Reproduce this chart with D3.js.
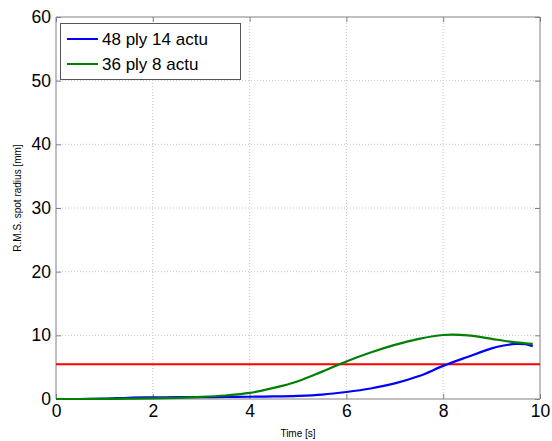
<!DOCTYPE html>
<html><head><meta charset="utf-8">
<script src="https://cdn.jsdelivr.net/npm/d3@7"></script>
<style>body{margin:0;background:#fff}svg{display:block;font-family:"Liberation Sans",Arial,sans-serif}</style>
</head><body><svg id="c" width="552" height="441"></svg>
<script>
const time = [0,0.5,1,1.5,2,2.5,3,3.5,4,4.5,5,5.5,6,6.5,7,7.5,8,8.5,9,9.25,9.5,9.7,9.85];
const green36 = [0,0,0.02,0.05,0.1,0.18,0.32,0.55,0.95,1.75,2.8,4.3,5.9,7.3,8.5,9.45,10.05,10.0,9.45,9.15,8.9,8.75,8.65];
const blue48 = [0,0,0.05,0.2,0.25,0.28,0.3,0.32,0.35,0.4,0.5,0.7,1.1,1.65,2.45,3.6,5.2,6.6,7.95,8.4,8.65,8.6,8.3];
const threshold = 5.45;
const xTicks = [0,2,4,6,8,10];
const yTicks = [0,10,20,30,40,50,60];
const legendLabels = ["48 ply 14 actu","36 ply 8 actu"];
const colors = ["#0000ff","#008000"];

const svg = d3.select("#c");
const m = {l:56,t:17,r:12,b:42};
const W = 552, H = 441;
const x = d3.scaleLinear().domain([0,10]).range([m.l, W-m.r]);
const y = d3.scaleLinear().domain([0,60]).range([H-m.b, m.t]);
const frame = "#808080";

// grid
const g = svg.append("g");
g.selectAll(".gx").data(xTicks.slice(1,-1)).enter().append("line")
 .attr("x1",d=>x(d)).attr("x2",d=>x(d)).attr("y1",y(0)).attr("y2",y(60))
 .attr("stroke","#c8c8c8").attr("stroke-dasharray","1,2");
g.selectAll(".gy").data(yTicks.slice(1,-1)).enter().append("line")
 .attr("y1",d=>y(d)).attr("y2",d=>y(d)).attr("x1",x(0)).attr("x2",x(10))
 .attr("stroke","#c8c8c8").attr("stroke-dasharray","1,2");

// axes
const xb = d3.axisBottom(x).tickValues(xTicks).tickSize(-5).tickPadding(6);
const xt = d3.axisTop(x).tickValues(xTicks).tickSize(-5).tickFormat("");
const yl = d3.axisLeft(y).tickValues(yTicks).tickSize(-5).tickPadding(5);
const yr = d3.axisRight(y).tickValues(yTicks).tickSize(-5).tickFormat("");
function style(sel){sel.select(".domain").attr("stroke",frame);sel.selectAll(".tick line").attr("stroke",frame);
 sel.selectAll("text").attr("fill","#000").attr("font-size",17.5).attr("font-family","Liberation Sans, Arial, sans-serif");}
svg.append("g").attr("transform",`translate(0,${y(0)})`).call(xb).call(style).call(s=>s.select(".domain").attr("d",`M${x(0)},0H${x(10)}`));
svg.append("g").attr("transform",`translate(0,${y(60)})`).call(xt).call(style).call(s=>s.select(".domain").attr("d",`M${x(0)},0H${x(10)}`));
svg.append("g").attr("transform",`translate(${x(0)},0)`).call(yl).call(style).call(s=>s.select(".domain").attr("d",`M0,${y(0)}V${y(60)}`));
svg.append("g").attr("transform",`translate(${x(10)},0)`).call(yr).call(style).call(s=>s.select(".domain").attr("d",`M0,${y(0)}V${y(60)}`));

// threshold
svg.append("line").attr("x1",x(0)).attr("x2",x(10)).attr("y1",y(threshold)).attr("y2",y(threshold))
 .attr("stroke","#ff0000").attr("stroke-width",2);

const line = d3.line().x((d,i)=>x(time[i])).y(d=>y(d)).curve(d3.curveCatmullRom.alpha(0.5));
[blue48, green36].forEach((s,i)=>{
 svg.append("path").attr("d",line(s)).attr("fill","none").attr("stroke",colors[i]).attr("stroke-width",2.2);
});

// labels
svg.append("text").attr("x",(x(0)+x(10))/2).attr("y",437).attr("text-anchor","middle").attr("font-size",10).text("Time [s]");
svg.append("text").attr("transform",`translate(21,${(y(0)+y(60))/2 - 10}) rotate(-90)`).attr("text-anchor","middle").attr("font-size",10).text("R.M.S. spot radius [mm]");

// legend
const lg = svg.append("g");
lg.append("rect").attr("x",60.5).attr("y",23.5).attr("width",180).attr("height",56).attr("fill","#fff").attr("stroke","#555");
legendLabels.forEach((t,i)=>{
 const yy = 39 + i*25;
 lg.append("line").attr("x1",67).attr("x2",98).attr("y1",yy).attr("y2",yy).attr("stroke",colors[i]).attr("stroke-width",2);
 lg.append("text").attr("x",102).attr("y",yy+6).attr("font-size",17).text(t);
});
</script></body></html>
